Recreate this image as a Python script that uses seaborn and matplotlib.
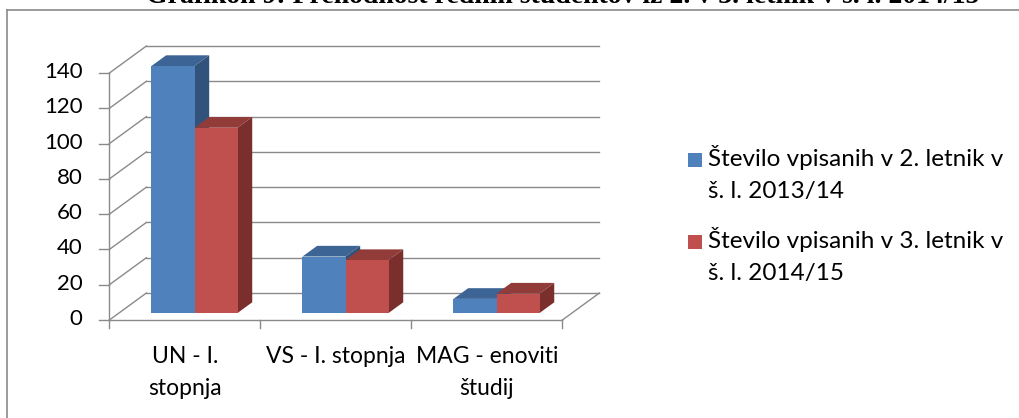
import numpy as np
import pandas as pd
import seaborn as sns
import matplotlib.pyplot as plt
from matplotlib.patches import Polygon, Rectangle
from matplotlib.lines import Line2D

# data
categories = ['UN - I.\nstopnja', 'VS - I. stopnja', 'MAG - enoviti\nštudij']
series = ['Število vpisanih v 2. letnik v\nš. l. 2013/14',
          'Število vpisanih v 3. letnik v\nš. l. 2014/15']
vpis_2013 = [140, 32, 8]
vpis_2014 = [105, 30, 11]
y_ticks = [0, 20, 40, 60, 80, 100, 120, 140]
title = 'Grafikon 9: Prehodnost rednih študentov iz 2. v 3. letnik v š. l. 2014/15'

front_colors = ['#4F81BD', '#C0504D']
top_colors = ['#3C6495', '#923C3A']
side_colors = ['#30527B', '#7A2F2D']
grid_color = '#8A8A8A'
font = 'Lato'

df = pd.DataFrame({
    'kategorija': categories * 2,
    'serija': [series[0]] * 3 + [series[1]] * 3,
    'vrednost': vpis_2013 + vpis_2014,
})

W, H, DPI = 1019, 418, 100
fig = plt.figure(figsize=(W / DPI, H / DPI), dpi=DPI)
ax = fig.add_axes([119 / W, (H - 313) / H, 453 / W, 247 / H])
sns.barplot(data=df, x='kategorija', y='vrednost', hue='serija', palette=front_colors,
            width=0.57, saturation=1, legend=False, linewidth=0, ax=ax)
ax.set_xlim(-0.5, 2.5)
ax.set_ylim(0, 140)
ax.axis('off')

# pixel offsets -> data units (fake 3D depth)
p0 = ax.transData.transform((0, 0))
p1 = ax.transData.transform((1, 1))
sx, sy = p1 - p0


def off(dx, dy):
    return dx / sx, dy / sy


fx, fy = off(-9.6, -7)      # front edge of the floor
bx, by = off(27.4, 20)      # back wall
ddx, ddy = off(14.7, 10.7)  # depth of each bar
line_kw = dict(color=grid_color, lw=1.0, clip_on=False, zorder=0.5)

# back wall + left wall gridlines, y ticks on the front axis
for v in y_ticks:
    ax.plot([-0.5 + bx, 2.5 + bx], [v + by, v + by], **line_kw)
    ax.plot([-0.5 + fx, -0.5 + bx], [v + fy, v + by], **line_kw)
    tx, _ = off(-10, 0)
    ax.plot([-0.5 + fx + tx, -0.5 + fx], [v + fy, v + fy], **line_kw)
    lx, ly = off(-27, 1)
    ax.text(-0.5 + fx + lx, v + fy + ly, str(v), ha='right', va='center',
            fontsize=16, family=font, color='black')

# front axis and floor
ax.plot([-0.5 + fx, -0.5 + fx], [fy, 140 + fy], **line_kw)
ax.plot([-0.5 + fx, 2.5 + fx], [fy, fy], **line_kw)
ax.plot([2.5 + fx, 2.5 + bx], [fy, by], **line_kw)
_, tdy = off(0, -8)
for xt in [-0.5, 0.5, 1.5, 2.5]:
    ax.plot([xt + fx, xt + fx], [fy, fy + tdy], **line_kw)

# category labels
_, cy = off(0, -26)
for i, cat in enumerate(categories):
    ax.text(i + fx, fy + cy, cat, ha='center', va='top', fontsize=16.5,
            family=font, linespacing=1.62)

# top and side faces of the bars
for k, cont in enumerate(ax.containers):
    for bar in cont:
        x0, w, h = bar.get_x(), bar.get_width(), bar.get_height()
        top = [(x0, h), (x0 + w, h), (x0 + w + ddx, h + ddy), (x0 + ddx, h + ddy)]
        side = [(x0 + w, 0), (x0 + w, h), (x0 + w + ddx, h + ddy), (x0 + w + ddx, ddy)]
        ax.add_patch(Polygon(top, closed=True, fc=top_colors[k], ec='none',
                             clip_on=False, zorder=0.8))
        ax.add_patch(Polygon(side, closed=True, fc=side_colors[k], ec='none',
                             clip_on=False, zorder=0.8))
        bar.set_zorder(1)
        bar.set_clip_on(False)

# legend
for k, name in enumerate(series):
    ytop = 153 + 82 * k
    fig.add_artist(Rectangle((688 / W, (H - ytop - 14) / H), 14 / W, 14 / H,
                             transform=fig.transFigure, fc=front_colors[k], ec='none'))
    fig.text(708 / W, (H - ytop + 8) / H, name, ha='left', va='top', fontsize=17.5,
             family=font, linespacing=1.62)

# chart frame (left and top edge visible)
fig.add_artist(Line2D([7 / W, 7 / W], [0, (H - 10) / H], transform=fig.transFigure,
                      color=grid_color, lw=1.2))
fig.add_artist(Line2D([7 / W, 1], [(H - 10) / H, (H - 10) / H], transform=fig.transFigure,
                      color=grid_color, lw=1.2))

# title, mostly cut off at the top like in the source
fig.text(563 / W, (H - 3) / H, title, ha='center', va='baseline', fontsize=20,
         family='Liberation Serif', fontweight='bold')

fig.savefig('out.png', dpi=DPI)
